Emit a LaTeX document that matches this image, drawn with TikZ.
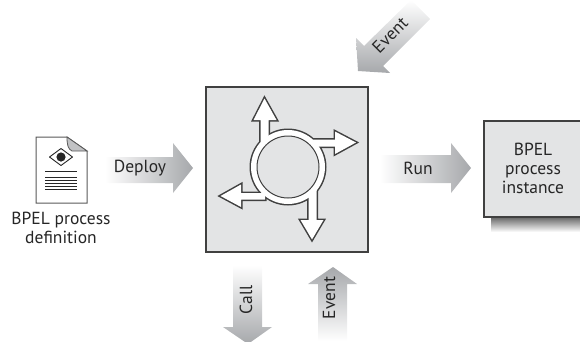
\documentclass[tikz,border=0pt]{standalone}
\usepackage{fontspec}
\setmainfont{PT Sans}
\definecolor{panel}{HTML}{E3E4E5}
\definecolor{arr}{HTML}{A6A8AB}
\tikzset{
  lbl/.style={inner sep=0pt,text=black!85,font=\fontsize{17.5}{19}\selectfont,align=center},
  boxy/.style={draw=black!75,line width=1.3pt,fill=panel,inner sep=0pt},
  ringline/.style={draw=black!75,line width=3pt,line join=miter},
}
\newcommand{\ringshape}[1]{%
  \ifcase#1
  (288,167) circle (37)
  \or (260.5,150) -- (260.5,120) -- (253.5,120) -- (264.5,98.5) -- (276.5,120) -- (268.5,120) -- (268.5,150) -- cycle
  \or (310,139.5) -- (335,139.5) -- (335,131.5) -- (356,142.5) -- (335,154) -- (335,146.5) -- (310,146.5) -- cycle
  \or (265,193) -- (241,193) -- (241,184.5) -- (220.5,196) -- (241,207) -- (241,199.5) -- (265,199.5) -- cycle
  \or (308.5,190) -- (308.5,220) -- (300.5,220) -- (312,239.5) -- (323.5,220) -- (316.5,220) -- (316.5,190) -- cycle
  \fi}
\begin{document}
\begin{tikzpicture}[x=1pt,y=-1pt]
\useasboundingbox (0,0) rectangle (580,341);
% document icon
\path[draw=black!65,line width=1pt,fill=white] (36,137) -- (67,137) -- (87,151) -- (87,203) -- (36,203) -- cycle;
\path[draw=black!65,line width=.8pt,fill=arr!70] (67,137) -- (87,151) -- (72,151) .. controls (68,149) and (67,145) .. (67,137) -- cycle;
\draw[black!85,line width=.9pt,line join=round] (49.5,157) -- (61,148.5) -- (72.5,157) -- (61,165.5) -- cycle;
\fill[white] (53,157) -- (61,151) -- (69,157) -- (61,163) -- cycle;
\fill[black!85] (61,157) circle (4.6);
\foreach \yy/\w in {171/1,177/.9,180/.9,183/.9,186/.9,189/1}
  \draw[black!85,line width=\w pt] (45,\yy) -- (77,\yy);
\node[lbl] (deflabel) at (61,228) {BPEL process\\definition};
% deploy arrow
\shade[left color=white,right color=arr] (105,157) -- (173,157) -- (173,143) -- (193,168) -- (173,193) -- (173,183) -- (105,183) -- cycle;
\node[lbl] (deploy) at (140,168) {Deploy};
% central box
\node[boxy,minimum width=162pt,minimum height=165pt] (engine) at (287,169.5) {};
\foreach \s in {0,...,4} \draw[ringline] \ringshape{\s};
\foreach \s in {0,...,4} \fill[white] \ringshape{\s};
\draw[draw=black!75,line width=1pt,fill=panel] (288,167) circle (31);
% run arrow
\shade[left color=white,right color=arr] (380,155) -- (451,155) -- (451,143) -- (471,168) -- (451,193) -- (451,183) -- (380,183) -- cycle;
\node[lbl] (run) at (418,168) {Run};
% instance
\shade[top color=black!60,bottom color=white] (491,217) rectangle (580,232);
\path[boxy] (580,121) -- (484,121) -- (484,217) -- (580,217);
\node[lbl] (instance) at (533,168) {BPEL\\process\\instance};
% call / event
\shade[top color=white,bottom color=arr] (233,265) -- (262,265) -- (262,327) -- (272,327) -- (248,344) -- (223,327) -- (233,327) -- cycle;
\node[lbl,rotate=90] (call) at (246,300) {Call};
\shade[top color=arr,bottom color=white] (333,267) -- (357,284) -- (347,284) -- (347,341) -- (318,341) -- (318,284) -- (308,284) -- cycle;
\node[lbl,rotate=90] (eventb) at (329,298) {Event};
% diagonal event
\shade[shading angle=45,top color=white,middle color=arr!55,bottom color=arr] (358,71) -- (356,38) -- (364,46) -- (411,0) -- (430,19) -- (383,66) -- (390,73) -- cycle;
\node[lbl,rotate=45] (eventt) at (390,35) {Event};
\end{tikzpicture}
\end{document}
